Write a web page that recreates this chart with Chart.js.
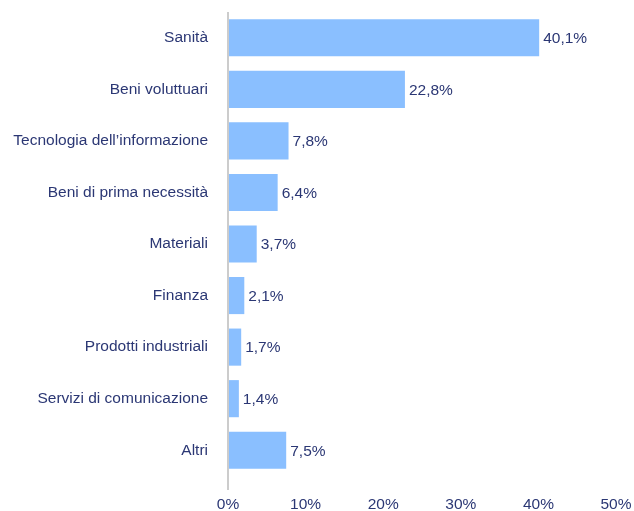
<!DOCTYPE html>
<html>
<head>
<meta charset="utf-8">
<script src="https://cdn.jsdelivr.net/npm/chart.js@4/dist/chart.umd.min.js"></script>
<style>
  html, body { margin: 0; padding: 0; background: #fff; }
  #wrap { width: 634px; height: 511px; }
</style>
</head>
<body>
<div id="wrap"><canvas id="chart"></canvas></div>
<script>
const categories = [
  "Sanità",
  "Beni voluttuari",
  "Tecnologia dell\u2019informazione",
  "Beni di prima necessità",
  "Materiali",
  "Finanza",
  "Prodotti industriali",
  "Servizi di comunicazione",
  "Altri",
];
const weights = [40.1, 22.8, 7.8, 6.4, 3.7, 2.1, 1.7, 1.4, 7.5];
const xTicks = [0, 10, 20, 30, 40, 50];

const textColor = "#2b3774";
const fontFamily = "'Liberation Sans', Arial, sans-serif";
const fontSize = 15.5;

const fmt = (v) => v.toFixed(1).replace(".", ",") + "%";

// value labels at the end of each bar
const valueLabels = {
  id: "valueLabels",
  afterDatasetsDraw(chart) {
    const ctx = chart.ctx;
    const meta = chart.getDatasetMeta(0);
    ctx.save();
    ctx.font = fontSize + "px " + fontFamily;
    ctx.fillStyle = textColor;
    ctx.textAlign = "left";
    ctx.textBaseline = "middle";
    meta.data.forEach((bar, i) => {
      ctx.fillText(fmt(weights[i]), bar.x + 4, bar.y + 1);
    });
    ctx.restore();
  },
};

new Chart(document.getElementById("chart"), {
  type: "bar",
  data: {
    labels: categories,
    datasets: [
      {
        data: weights,
        backgroundColor: "#8abfff",
        borderWidth: 0,
        categoryPercentage: 1,
        barPercentage: 0.72,
      },
    ],
  },
  options: {
    indexAxis: "y",
    responsive: true,
    maintainAspectRatio: false,
    animation: false,
    layout: {
      padding: { top: 12, right: 18, bottom: 0, left: 0 },
    },
    plugins: {
      legend: { display: false },
      tooltip: { enabled: false },
    },
    scales: {
      x: {
        min: 0,
        max: 50,
        afterBuildTicks: (scale) => {
          scale.ticks = xTicks.map((v) => ({ value: v }));
        },
        afterFit: (scale) => {
          scale.height = 35;
          scale.paddingLeft = 0;
          scale.paddingRight = 0;
        },
        border: { display: false },
        grid: {
          color: (c) => (c.tick && c.tick.value === 0 ? "#cccccc" : "rgba(0,0,0,0)"),
          lineWidth: 2,
          tickLength: 14,
          drawTicks: true,
        },
        ticks: {
          padding: 5,
          color: textColor,
          font: { family: fontFamily, size: fontSize },
          callback: (v) => v + "%",
        },
      },
      y: {
        afterFit: (scale) => {
          scale.width = 228;
          scale.paddingTop = 0;
          scale.paddingBottom = 0;
        },
        border: { display: false },
        grid: { display: false },
        ticks: {
          padding: 12,
          color: textColor,
          font: { family: fontFamily, size: fontSize },
        },
      },
    },
  },
  plugins: [valueLabels],
});
</script>
</body>
</html>
